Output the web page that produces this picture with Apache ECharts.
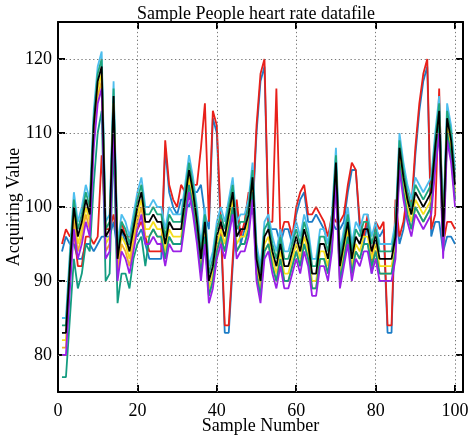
<!DOCTYPE html>
<html><head><meta charset="utf-8">
<script src="https://cdn.jsdelivr.net/npm/echarts@6/dist/echarts.min.js"></script>
<style>html,body{margin:0;padding:0;background:#fff;}#c{width:475px;height:438px;}</style>
</head><body><div id="c"></div>
<script>
// sample numbers 1..100 (x positions of the samples)
const sampleNumbers = Array.from({length: 100}, (_, i) => i + 1);
const xTicks = [0, 20, 40, 60, 80, 100];
const yTicks = [80, 90, 100, 110, 120];

const blue = [94,96,95,95,93,93,95,95,94,95, 96,96,96,98,94,97,95,95,97,96, 97,95,93,93,93,93,108,102,100,99, 101,101,100,102,102,103,99,97,112,110, 97,83,83,92,100,95,97,101,99,110, 117,119,97,97,97,95,97,97,95,99, 101,102,98,98,99,98,97,95,98,97, 97,98,102,105,105,97,95,98,91,97, 96,97,83,83,100,95,97,101,99,107, 113,117,119,96,98,98,94,96,96,95];
const red = [95,97,96,97,92,92,96,96,95,96, 107,97,97,99,95,98,96,96,98,97, 98,96,94,94,94,94,109,103,101,100, 103,102,101,103,103,108,114,98,113,111, 98,84,84,93,101,96,98,102,100,111, 118,120,98,98,116,96,98,98,96,100, 102,103,99,99,100,99,98,96,99,98, 98,99,103,106,105,98,96,99,92,98, 97,98,84,84,101,96,98,102,100,108, 114,118,120,97,99,116,95,98,98,97];
const lightBlue = [85,85,94,102,98,100,103,101,113,119, 121,98,99,117,95,99,98,96,99,102, 104,100,100,101,100,100,97,100,99,99, 99,103,107,104,100,95,100,92,94,98, 100,98,101,104,98,99,99,101,106,95, 92,98,99,96,94,97,94,94,96,98, 96,99,97,93,93,97,97,95,99,108, 94,97,100,95,98,97,99,99,96,98, 95,95,95,95,98,110,106,103,101,104, 103,102,103,104,110,115,98,114,111,105];
const green = [84,84,93,101,97,99,102,100,112,118, 120,97,98,116,94,98,97,95,98,101, 103,99,99,100,99,99,96,99,98,98, 98,102,106,103,99,94,99,91,93,97, 99,97,100,103,97,98,98,100,105,94, 91,97,98,95,93,96,93,93,95,97, 95,98,96,92,92,96,96,94,98,107, 93,96,99,94,97,96,98,98,95,97, 94,94,94,94,97,109,105,102,100,103, 102,101,102,103,109,114,97,113,110,104];
const black = [83,83,92,100,96,98,101,99,111,117, 119,96,97,115,93,97,96,94,97,100, 102,98,98,99,98,98,95,98,97,97, 97,101,105,102,98,93,98,90,92,96, 98,96,99,102,96,97,97,99,104,93, 90,96,97,94,92,95,92,92,94,96, 94,97,95,91,91,95,95,93,97,106, 92,95,98,93,96,95,97,97,94,96, 93,93,93,93,96,108,104,101,99,102, 101,100,101,102,108,113,96,112,109,103];
const yellow = [82,82,91,99,95,97,100,98,110,116, 118,95,96,114,92,96,95,93,96,99, 101,97,97,98,97,97,94,97,96,96, 96,100,104,101,97,92,97,89,91,95, 97,95,98,101,95,96,96,98,103,92, 89,95,96,93,91,94,91,91,93,95, 93,96,94,90,90,94,94,92,96,105, 91,94,97,92,95,94,96,96,93,95, 92,92,92,92,95,107,103,100,98,101, 100,99,100,101,107,112,95,111,108,102];
const orange = [81,81,90,98,94,96,99,97,109,115, 117,94,95,113,91,95,94,92,95,98, 100,96,96,97,96,96,93,96,95,95, 95,99,103,100,96,91,96,88,90,94, 96,94,97,100,94,95,95,97,102,91, 88,94,95,92,90,93,90,90,92,94, 92,95,93,89,89,93,93,91,95,104, 90,93,96,91,94,93,95,95,92,94, 91,91,91,91,94,106,102,99,97,100, 99,98,99,100,106,111,94,110,107,101];
const teal = [77,77,85,93,89,91,95,94,103,110, 113,90,91,109,87,91,91,89,93,95, 96,92,96,97,96,96,93,96,95,95, 95,99,103,100,96,91,96,88,90,94, 96,94,97,100,94,95,95,97,102,91, 88,94,95,92,90,93,90,90,92,94, 92,95,93,89,89,93,93,91,95,104, 90,93,96,91,94,93,95,95,92,94, 91,91,91,91,94,106,102,99,97,100, 99,98,99,100,106,111,94,110,107,101];
const purple = [80,80,89,97,93,95,98,96,108,114, 116,93,94,112,90,94,93,91,94,97, 99,95,95,96,95,95,92,95,94,94, 94,98,102,99,95,90,95,87,89,93, 95,93,96,99,93,94,94,96,101,90, 87,93,94,91,89,92,89,89,91,93, 91,94,92,88,88,92,92,90,94,103, 89,92,95,90,93,92,94,94,91,93, 90,90,90,90,93,105,101,98,96,99, 98,97,98,99,105,110,93,109,106,100];

const lines = [
  {name: 'blue', values: blue, color: '#1C7CC6'},
  {name: 'red', values: red, color: '#E8201A'},
  {name: 'lightBlue', values: lightBlue, color: '#4DBEEE'},
  {name: 'green', values: green, color: '#1FA67C'},
  {name: 'yellow', values: yellow, color: '#F5DF1C'},
  {name: 'orange', values: orange, color: '#F0AE2E'},
  {name: 'teal', values: teal, color: '#139C80'},
  {name: 'purple', values: purple, color: '#9A1FE6'},
  {name: 'black', values: black, color: '#000000'}
];

const font = 'Liberation Serif';
const chart = echarts.init(document.getElementById('c'), null, {renderer: 'canvas'});

const series = lines.map(l => ({
  name: l.name, type: 'line', symbol: 'none', animation: false, z: 3,
  lineStyle: {color: l.color, width: 1.8},
  itemStyle: {color: l.color},
  data: sampleNumbers.map((x, i) => [x, l.values[i]])
}));
series.unshift({
  type: 'line', data: [], z: 1, silent: true, animation: false,
  markLine: {
    silent: true, symbol: 'none', animation: false, label: {show: false},
    lineStyle: {type: [1.3, 2.6], color: '#777', width: 1},
    data: yTicks.map(v => ({yAxis: v})).concat(xTicks.filter(v => v > 0).map(v => ({xAxis: v})))
  }
});

const axisCommon = {
  axisLine: {show: true, onZero: false, lineStyle: {color: '#000', width: 2}},
  splitLine: {show: false}
};

chart.setOption({
  animation: false,
  backgroundColor: '#fff',
  title: {
    text: 'Sample People heart rate datafile', left: 251, top: 0, textAlign: 'center',
    textStyle: {fontFamily: font, fontSize: 18, fontWeight: 'normal', color: '#000'}
  },
  grid: {left: 58, right: 12, top: 22, bottom: 46, containLabel: false, outerBoundsMode: 'none'},
  xAxis: [
    Object.assign({}, axisCommon, {
      type: 'value', min: 0, max: 102, position: 'bottom',
      name: 'Sample Number', nameLocation: 'middle', nameGap: 25, nameMoveOverlap: false,
      nameTextStyle: {fontFamily: font, fontSize: 18, color: '#000'},
      axisTick: {show: true, inside: true, length: 7, lineStyle: {color: '#000', width: 2}, customValues: xTicks},
      axisLabel: {show: true, fontFamily: font, fontSize: 18, color: '#000', margin: 10, customValues: xTicks}
    }),
    Object.assign({}, axisCommon, {
      type: 'value', min: 0, max: 102, position: 'top',
      axisTick: {show: true, inside: true, length: 7, lineStyle: {color: '#000', width: 2}, customValues: xTicks},
      axisLabel: {show: false}
    })
  ],
  yAxis: [
    Object.assign({}, axisCommon, {
      type: 'value', min: 75, max: 125, position: 'left',
      name: 'Acquiring Value', nameLocation: 'middle', nameGap: 35, nameRotate: 90, nameMoveOverlap: false,
      nameTextStyle: {fontFamily: font, fontSize: 18, color: '#000'},
      axisTick: {show: true, inside: true, length: 7, lineStyle: {color: '#000', width: 2}, customValues: yTicks},
      axisLabel: {show: true, fontFamily: font, fontSize: 18, color: '#000', margin: 6, customValues: yTicks}
    }),
    Object.assign({}, axisCommon, {
      type: 'value', min: 75, max: 125, position: 'right',
      axisTick: {show: true, inside: true, length: 7, lineStyle: {color: '#000', width: 2}, customValues: yTicks},
      axisLabel: {show: false}
    })
  ],
  series: series
});
</script>
</body></html>
